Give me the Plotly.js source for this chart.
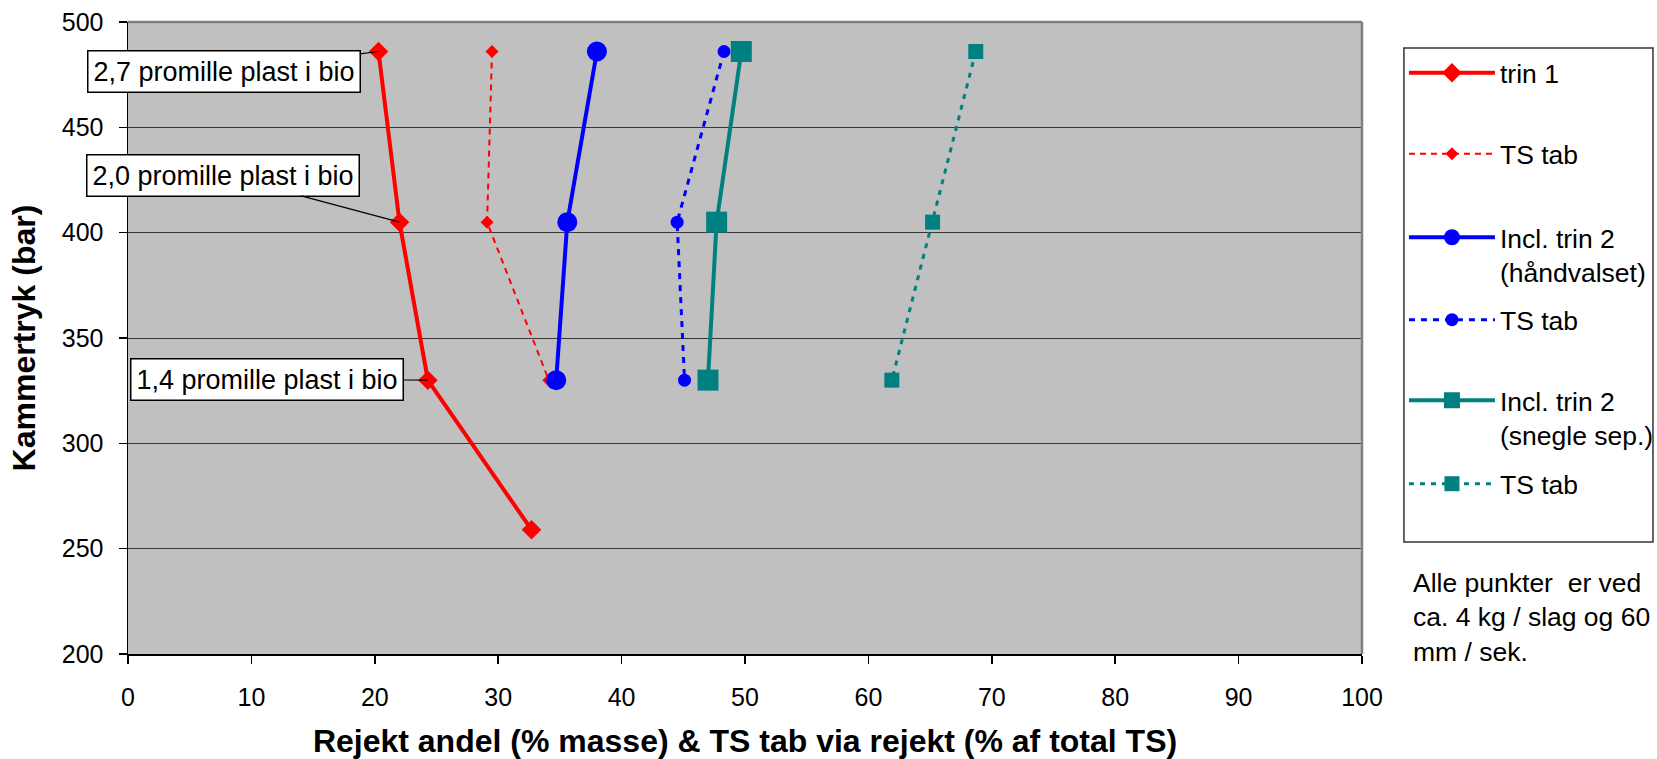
<!DOCTYPE html>
<html>
<head>
<meta charset="utf-8">
<script src="https://cdn.plot.ly/plotly-3.0.1.min.js"></script>
<style>
  html, body { margin: 0; padding: 0; background: #ffffff; }
  #chart { width: 1657px; height: 759px; }
</style>
</head>
<body>
<div id="chart"></div>
<script>
// Kammertryk (bar) for each test level
const pressureTrin1 = [486, 405, 330, 259];
const pressure = [486, 405, 330];

// Rejekt andel (% masse) and TS tab (% af total TS)
const trin1 = [20.3, 22.0, 24.3, 32.7];
const tsTabTrin1 = [29.5, 29.1, 34.1];
const inclTrin2Hand = [38.0, 35.6, 34.7];
const tsTabHand = [48.3, 44.5, 45.1];
const inclTrin2Snegle = [49.7, 47.7, 47.0];
const tsTabSnegle = [68.7, 65.2, 61.9];

const seriesNames = [
  'trin 1',
  'TS tab',
  'Incl. trin 2<br>(håndvalset)',
  'TS tab',
  'Incl. trin 2<br>(snegle sep.)',
  'TS tab'
];

const plastLabels = [
  '2,7 promille plast i bio',
  '2,0 promille plast i bio',
  '1,4 promille plast i bio'
];

const xTicks = [0, 10, 20, 30, 40, 50, 60, 70, 80, 90, 100];
const yTicks = [200, 250, 300, 350, 400, 450, 500];

const noteText = 'Alle punkter\u00a0 er ved<br>ca. 4 kg / slag og 60<br>mm / sek.';

const FONT = 'Arial, "Liberation Sans", sans-serif';
const RED = '#ff0000', BLUE = '#0000ff', TEAL = '#008080';

const traces = [
  { x: trin1, y: pressureTrin1, name: seriesNames[0], legend: 'legend',
    mode: 'lines+markers', line: { color: RED, width: 4 },
    marker: { symbol: 'diamond', size: 15, color: RED } },
  { x: tsTabTrin1, y: pressure, name: seriesNames[1], legend: 'legend2',
    mode: 'lines+markers', line: { color: RED, width: 2, dash: '6px,5px' },
    marker: { symbol: 'diamond', size: 10, color: RED } },
  { x: inclTrin2Hand, y: pressure, name: seriesNames[2], legend: 'legend3',
    mode: 'lines+markers', line: { color: BLUE, width: 4 },
    marker: { symbol: 'circle', size: 20, color: BLUE } },
  { x: tsTabHand, y: pressure, name: seriesNames[3], legend: 'legend4',
    mode: 'lines+markers', line: { color: BLUE, width: 3, dash: '6px,6px' },
    marker: { symbol: 'circle', size: 13, color: BLUE } },
  { x: inclTrin2Snegle, y: pressure, name: seriesNames[4], legend: 'legend5',
    mode: 'lines+markers', line: { color: TEAL, width: 4 },
    marker: { symbol: 'square', size: 21, color: TEAL } },
  { x: tsTabSnegle, y: pressure, name: seriesNames[5], legend: 'legend6',
    mode: 'lines+markers', line: { color: TEAL, width: 3, dash: '5px,6px' },
    marker: { symbol: 'square', size: 15, color: TEAL } }
];

// one legend per entry so each row sits at its own height
function legendAt(y, valign) {
  return {
    x: 1.034, xanchor: 'left', y: y, yanchor: 'middle',
    bgcolor: 'rgba(0,0,0,0)', borderwidth: 0,
    font: { family: FONT, size: 26.5, color: '#000' },
    valign: valign || 'middle', itemwidth: 86
  };
}

const callout = (i, x, y, ax, ay) => ({
  x: x, y: y, xref: 'x', yref: 'y', text: plastLabels[i],
  showarrow: true, arrowhead: 0, arrowwidth: 1.2, arrowcolor: '#000',
  ax: ax, ay: ay, bgcolor: '#ffffff', bordercolor: '#000', borderwidth: 1.5,
  borderpad: 5, font: { family: FONT, size: 27, color: '#000' }
});

const layout = {
  width: 1657, height: 759,
  margin: { l: 128, r: 295, t: 22, b: 105, autoexpand: false },
  paper_bgcolor: '#ffffff', plot_bgcolor: '#c0c0c0',
  font: { family: FONT, color: '#000' },
  xaxis: {
    range: [0, 100], tickvals: xTicks, ticks: 'outside', ticklen: 8,
    tickcolor: '#000', tickwidth: 1.5, showline: true, linecolor: '#000',
    linewidth: 1.5, showgrid: false, zeroline: false, ticklabelstandoff: 12,
    tickfont: { family: FONT, size: 25, color: '#000' },
    title: { text: 'Rejekt andel (% masse) & TS tab via rejekt (% af total TS)',
             font: { family: FONT, size: 32, weight: 'bold', color: '#000' }, standoff: 22 }
  },
  yaxis: {
    range: [200, 500], tickvals: yTicks, ticks: 'outside', ticklen: 8,
    tickcolor: '#000', tickwidth: 1.5, showline: true, linecolor: '#000',
    linewidth: 1.5, showgrid: true, gridcolor: '#383838', gridwidth: 1,
    zeroline: false, ticklabelstandoff: 10,
    tickfont: { family: FONT, size: 25, color: '#000' },
    title: { text: 'Kammertryk (bar)',
             font: { family: FONT, size: 32, weight: 'bold', color: '#000' }, standoff: 16 }
  },
  showlegend: true,
  legend: legendAt(0.9193),
  legend2: legendAt(0.7911),
  legend3: legendAt(0.6321, 'top'),
  legend4: legendAt(0.5285),
  legend5: legendAt(0.3742, 'top'),
  legend6: legendAt(0.2690),
  shapes: [
    // plot area frame, top and right edges
    { type: 'line', xref: 'paper', yref: 'paper', x0: 0, x1: 1, y0: 1, y1: 1,
      line: { color: '#808080', width: 2.5 } },
    { type: 'line', xref: 'paper', yref: 'paper', x0: 1, x1: 1, y0: 0, y1: 1,
      line: { color: '#808080', width: 2.5 } },
    // legend frame
    { type: 'rect', xref: 'paper', yref: 'paper', x0: 1.034, x1: 1.2358,
      y0: 0.1772, y1: 0.9589, line: { color: '#333', width: 1.5 } }
  ],
  annotations: [
    callout(0, trin1[0], pressureTrin1[0], -155, 20),
    callout(1, trin1[1], pressureTrin1[1], -176, -47),
    callout(2, trin1[2], pressureTrin1[2], -161, -1),
    { xref: 'paper', yref: 'paper', x: 1.0397, y: 0.139, xanchor: 'left', yanchor: 'top',
      align: 'left', showarrow: false, text: noteText,
      font: { family: FONT, size: 26.5, color: '#000' } }
  ]
};

Plotly.newPlot('chart', traces, layout, { staticPlot: true, displayModeBar: false });
</script>
</body>
</html>
